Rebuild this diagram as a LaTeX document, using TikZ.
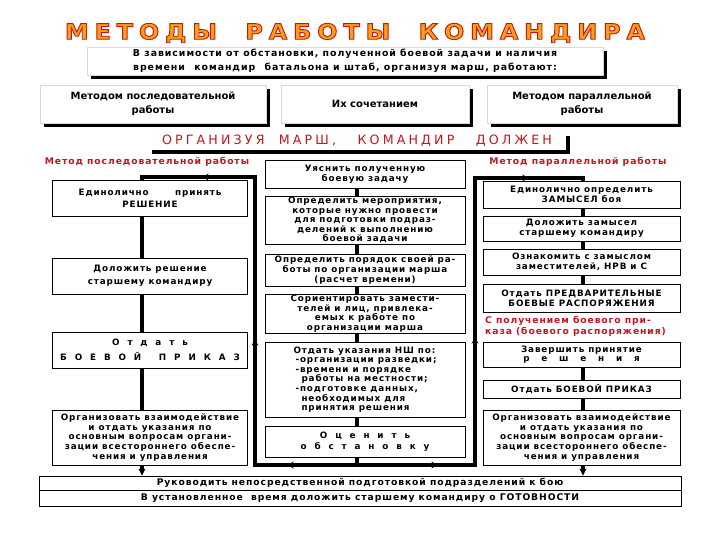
\documentclass[tikz,border=0pt]{standalone}
\usepackage{fontspec}
\setmainfont{DejaVu Sans}
\newfontfamily\bxfont[LetterSpace=10]{DejaVu Sans}
\newfontfamily\ttlfont[LetterSpace=25,FakeBold=4]{DejaVu Sans}
\newfontfamily\orgfont[LetterSpace=25]{DejaVu Sans}
\usetikzlibrary{arrows.meta,decorations.markings,calc,shadows}
\definecolor{rd}{RGB}{200,20,30}
\definecolor{org}{RGB}{248,160,20}
\newcommand{\ttltext}{\resizebox{580pt}{16pt}{\ttlfont\bfseries\special{pdf:literal direct 0.78 0.08 0.12 RG}МЕТОДЫ~~РАБОТЫ~~КОМАНДИРА}}
\begin{document}
\begin{tikzpicture}[x=1pt,y=-1pt,
  box/.style={draw, line width=0.8pt, fill=white, align=center, inner sep=1pt,
    font=\bxfont\bfseries\fontsize{8.8}{9.6}\selectfont},
  hdr/.style={draw=gray!30, fill=white, align=center, inner sep=1pt,
    drop shadow={shadow xshift=4pt, shadow yshift=-4pt, fill=black, opacity=1},
    font=\bfseries\fontsize{10}{14}\selectfont},
  thk/.style={line width=4pt},
  redtxt/.style={text=rd, font=\bxfont\bfseries\fontsize{9.2}{11}\selectfont, inner sep=0pt},
  bartxt/.style={draw, line width=0.8pt, fill=white, inner sep=0pt,
    font=\bxfont\bfseries\fontsize{9.2}{10}\selectfont},
  tip/.style={-{Stealth[length=7pt,width=7pt]}}
]
\useasboundingbox (0,0) rectangle (720,540);
\fill[white] (0,0) rectangle (720,540);

% title
\node[text=org, inner sep=0pt] (title) at (355,33) {\ttltext};

% intro box
\node[hdr, minimum width=516pt, minimum height=28pt, font=\bxfont\bfseries\fontsize{9.4}{14}\selectfont] (intro) at (345,61)
  {В зависимости от обстановки, полученной боевой задачи и наличия\\времени\quad командир\quad батальона и штаб, организуя марш, работают:};

% three header boxes
\node[hdr, minimum width=226pt, minimum height=38pt] (h1) at (153,104) {Методом последовательной\\работы};
\node[hdr, minimum width=188pt, minimum height=38pt] (h2) at (375,104) {Их сочетанием};
\node[hdr, minimum width=190pt, minimum height=38pt] (h3) at (582,104) {Методом параллельной\\работы};

% organizing line
\node[hdr, draw=none, minimum width=418pt, minimum height=18pt, text=rd] (org) at (357,141)
  {\resizebox{390pt}{9.5pt}{\orgfont\mdseries ОРГАНИЗУЯ\ \ МАРШ,\ \ \ КОМАНДИР\ \ \ ДОЛЖЕН}};

\node[redtxt] (lm) at (147,162) {Метод последовательной работы};
\node[redtxt] (rm) at (578,162) {Метод параллельной работы};

% left column
\node[box, minimum width=195pt, minimum height=36pt] (L1) at (150,198) {Единолично\hspace{3em}принять\\[2pt]РЕШЕНИЕ};
\node[box, minimum width=195pt, minimum height=36pt] (L2) at (150,276) {Доложить решение\\[3pt]старшему командиру};
\node[box, minimum width=195pt, minimum height=36pt] (L3) at (150,350) {О\ \ т\ \ д\ \ а\ \ т\ \ ь\\[5pt]Б\ \ О\ \ Е\ \ В\ \ О\ \ Й\qquad П\ \ Р\ \ И\ \ К\ \ А\ \ З};
\node[box, minimum width=195pt, minimum height=55pt] (L4) at (150,437.5) {Организовать взаимодействие\\и отдать указания по\\основным вопросам органи-\\зации всестороннего обеспе-\\чения и управления};

% middle column
\node[box, minimum width=200pt, minimum height=28pt] (M1) at (365,174) {Уяснить полученную\\боевую задачу};
\node[box, minimum width=200pt, minimum height=48pt] (M2) at (365,220) {Определить мероприятия,\\которые нужно провести\\для подготовки подраз-\\делений к выполнению\\боевой задачи};
\node[box, minimum width=200pt, minimum height=32pt] (M3) at (365,270) {Определить порядок своей ра-\\боты по организации марша\\(расчет времени)};
\node[box, minimum width=200pt, minimum height=39pt] (M4) at (365,313.5) {Сориентировать замести-\\телей и лиц, привлека-\\емых к работе по\\организации марша};
\node[box, minimum width=200pt, minimum height=75pt, align=left] (M5) at (365,379.5) {Отдать указания НШ по:\\\hspace*{2pt}-организации разведки;\\\hspace*{2pt}-времени и порядке\\\hspace*{8pt}работы на местности;\\\hspace*{2pt}-подготовке данных,\\\hspace*{8pt}необходимых для\\\hspace*{8pt}принятия решения};
\node[box, minimum width=200pt, minimum height=31pt] (M6) at (365,441.5) {О\ \ ц\ \ е\ \ н\ \ и\ \ т\ \ ь\\[2pt]о\ \ б\ \ с\ \ т\ \ а\ \ н\ \ о\ \ в\ \ к\ \ у};

% right column
\node[box, minimum width=197pt, minimum height=27pt] (R1) at (581.5,194.5) {Единолично определить\\ЗАМЫСЕЛ боя};
\node[box, minimum width=197pt, minimum height=25pt] (R2) at (581.5,228.5) {Доложить замысел\\старшему командиру};
\node[box, minimum width=197pt, minimum height=26pt] (R3) at (581.5,262) {Ознакомить с замыслом\\заместителей, НРВ и С};
\node[box, minimum width=197pt, minimum height=28pt] (R4) at (581.5,298) {Отдать ПРЕДВАРИТЕЛЬНЫЕ\\БОЕВЫЕ РАСПОРЯЖЕНИЯ};
\node[redtxt, anchor=west, align=left] (rt) at (485,326) {С получением боевого при-\\каза (боевого распоряжения)};
\node[box, minimum width=197pt, minimum height=25pt] (R5) at (581.5,354.5) {Завершить принятие\\р\ \ \ е\ \ \ ш\ \ \ е\ \ \ н\ \ \ и\ \ \ я};
\node[box, minimum width=197pt, minimum height=18pt] (R6) at (581.5,389) {Отдать БОЕВОЙ ПРИКАЗ};
\node[box, minimum width=197pt, minimum height=55pt] (R7) at (581.5,437.5) {Организовать взаимодействие\\и отдать указания по\\основным вопросам органи-\\зации всестороннего обеспе-\\чения и управления};

% bottom bar
\node[bartxt, minimum width=642pt, minimum height=14pt] (B1) at (360,483) {Руководить непосредственной подготовкой подразделений к бою};
\node[bartxt, minimum width=642pt, minimum height=16pt] (B2) at (360,498) {В установленное\ \ время доложить старшему командиру о ГОТОВНОСТИ};

% connector x positions
\coordinate (lx) at (142,0);
\coordinate (mx) at (357,0);
\coordinate (rx) at (583,0);
\coordinate (fb) at (357,465);
\coordinate (fbl) at (255,465);
\coordinate (ftl) at (255,177);
\coordinate (ltop) at (142,177);
\coordinate (fbr) at (475,465);
\coordinate (ftr) at (475,178);
\coordinate (rtop) at (583,178);

% left column links
\draw[thk] (L1.south -| lx) -- (L2.north -| lx);
\draw[thk] (L2.south -| lx) -- (L3.north -| lx);
\draw[thk] (L3.south -| lx) -- (L4.north -| lx);
\draw[thk, tip] (L4.south -| lx) -- (B1.north -| lx);

% middle column links
\draw[thk] (M1.south -| mx) -- (M2.north -| mx);
\draw[thk] (M2.south -| mx) -- (M3.north -| mx);
\draw[thk] (M3.south -| mx) -- (M4.north -| mx);
\draw[thk] (M4.south -| mx) -- (M5.north -| mx);
\draw[thk] (M5.south -| mx) -- (M6.north -| mx);

% right column links
\draw[thk] (R1.south -| rx) -- (R2.north -| rx);
\draw[thk] (R2.south -| rx) -- (R3.north -| rx);
\draw[thk] (R3.south -| rx) -- (R4.north -| rx);
\draw[thk] (R5.south -| rx) -- (R6.north -| rx);
\draw[thk] (R6.south -| rx) -- (R7.north -| rx);
\draw[thk, tip] (R7.south -| rx) -- (B1.north -| rx);

% frame: left loop
\draw[thk, line join=miter, postaction={decorate}, decoration={markings,
   mark=at position 77pt with {\arrow{Stealth[length=6pt,width=7pt]}},
   mark=at position 235pt with {\arrow{Stealth[length=6pt,width=7pt]}},
   mark=at position 450pt with {\arrow{Stealth[length=6pt,width=7pt]}}}]
  (M6.south -| mx) -- (fb) -- (fbl) -- (ftl) -- (ltop) -- (L1.north -| lx);
% frame: right loop
\draw[thk, line join=miter, postaction={decorate}, decoration={markings,
   mark=at position 88pt with {\arrow{Stealth[length=6pt,width=7pt]}},
   mark=at position 253pt with {\arrow{Stealth[length=6pt,width=7pt]}},
   mark=at position 466pt with {\arrow{Stealth[length=6pt,width=7pt]}}}]
  (M6.south -| mx) -- (fb) -- (fbr) -- (ftr) -- (rtop) -- (R1.north -| rx);
\end{tikzpicture}
\end{document}
